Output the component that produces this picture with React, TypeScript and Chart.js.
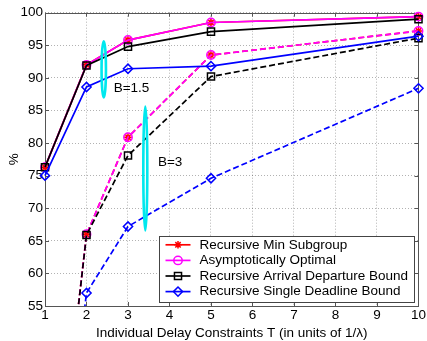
import React, { useEffect, useRef } from 'react';
import { Chart, registerables } from 'chart.js';

Chart.register(...registerables);

// ---- data ----
const T = [1, 2, 3, 5, 10];
const minSubgroupB15 = [76.3, 92.0, 95.8, 98.5, 99.4];
const asymOptimalB15 = [76.3, 92.0, 95.8, 98.5, 99.4];
const arrivalDepartureB15 = [76.3, 91.9, 94.8, 97.1, 99.0];
const singleDeadlineB15 = [75.0, 88.6, 91.4, 91.8, 96.4];
const minSubgroupB3 = [10, 66.0, 80.9, 93.5, 97.2];
const asymOptimalB3 = [10, 66.0, 80.9, 93.5, 97.2];
const arrivalDepartureB3 = [10, 65.9, 78.1, 90.2, 96.1];
const singleDeadlineB3 = [5, 57.0, 67.2, 74.6, 88.4];

const xTickValues = [1, 2, 3, 4, 5, 6, 7, 8, 9, 10];
const yTickValues = [55, 60, 65, 70, 75, 80, 85, 90, 95, 100];

const legendLabels = [
  'Recursive Min Subgroup',
  'Asymptotically Optimal',
  'Recursive Arrival Departure Bound',
  'Recursive Single Deadline Bound',
];
const seriesColors = ['#ff0000', '#ff00ff', '#000000', '#0000ff'];
const seriesMarkers = ['star', 'circle', 'rect', 'rectRot'];

// annotation ellipses (data units)
const ellipseT = [2.416, 3.417];
const ellipseY = [91.3, 76.1];
const ellipseRadT = [0.053, 0.048];
const ellipseRadY = [4.3, 9.5];
const noteLabels = ['B=1.5', 'B=3'];
const noteT = [2.656, 3.72];
const noteY = [88.4, 77.0];

const xTitle = 'Individual Delay Constraints T (in units of 1/\u03bb)';
const yTitle = '%';

const FONT = "'Liberation Sans', Arial, sans-serif";
const FSIZE = 13.5;

function markerRadius(style: string) {
  if (style === 'rect') return 5;
  if (style === 'rectRot') return 4.6;
  if (style === 'star') return 3.8;
  return 4.2;
}

function drawMarker(ctx: CanvasRenderingContext2D, style: string, x: number, y: number, r: number) {
  ctx.beginPath();
  if (style === 'circle') {
    ctx.arc(x, y, r, 0, Math.PI * 2);
  } else if (style === 'rect') {
    const s = r * Math.SQRT1_2;
    ctx.rect(x - s, y - s, 2 * s, 2 * s);
  } else if (style === 'rectRot') {
    ctx.moveTo(x - r, y);
    ctx.lineTo(x, y - r);
    ctx.lineTo(x + r, y);
    ctx.lineTo(x, y + r);
    ctx.closePath();
  } else if (style === 'star') {
    const d = r * Math.SQRT1_2;
    ctx.moveTo(x, y - r); ctx.lineTo(x, y + r);
    ctx.moveTo(x - r, y); ctx.lineTo(x + r, y);
    ctx.moveTo(x - d, y - d); ctx.lineTo(x + d, y + d);
    ctx.moveTo(x - d, y + d); ctx.lineTo(x + d, y - d);
  }
  ctx.stroke();
}

function makeSet(idx: number, values: number[], dashed: boolean) {
  const color = seriesColors[idx];
  const style = seriesMarkers[idx];
  return {
    label: legendLabels[idx] + (dashed ? ' (B=3)' : ' (B=1.5)'),
    data: T.map((t, i) => ({ x: t, y: values[i] })),
    borderColor: color,
    backgroundColor: 'transparent',
    borderWidth: 1.7,
    borderDash: dashed ? [6, 3] : [],
    pointStyle: style,
    pointRadius: markerRadius(style),
    pointHoverRadius: markerRadius(style),
    pointBorderColor: color,
    pointBackgroundColor: 'transparent',
    pointBorderWidth: 1.5,
    tension: 0,
    fill: false,
    clip: { left: 12, top: 12, right: 12, bottom: 0 },
    order: 3 - idx,
  };
}

const framePlugin = {
  id: 'frame',
  beforeDatasetsDraw(chart: any) {
    const { ctx, chartArea: a, scales } = chart;
    ctx.save();
    ctx.strokeStyle = '#555';
    ctx.lineWidth = 1;
    ctx.setLineDash([]);
    ctx.strokeRect(Math.round(a.left) + 0.5, Math.round(a.top) + 0.5, Math.round(a.right - a.left), Math.round(a.bottom - a.top));
    const tl = 4;
    ctx.beginPath();
    xTickValues.forEach((v) => {
      const x = Math.round(scales.x.getPixelForValue(v)) + 0.5;
      ctx.moveTo(x, a.bottom); ctx.lineTo(x, a.bottom - tl);
      ctx.moveTo(x, a.top); ctx.lineTo(x, a.top + tl);
    });
    yTickValues.forEach((v) => {
      const y = Math.round(scales.y.getPixelForValue(v)) + 0.5;
      ctx.moveTo(a.left, y); ctx.lineTo(a.left + tl, y);
      ctx.moveTo(a.right, y); ctx.lineTo(a.right - tl, y);
    });
    ctx.stroke();
    ctx.restore();
  },
};

const annotationPlugin = {
  id: 'notes',
  afterDatasetsDraw(chart: any) {
    const { ctx, scales, chartArea: a } = chart;
    ctx.save();
    // ellipses
    ctx.strokeStyle = '#00e8ee';
    ctx.lineWidth = 2.6;
    ctx.setLineDash([]);
    ellipseT.forEach((t, i) => {
      const cx = scales.x.getPixelForValue(t);
      const cy = scales.y.getPixelForValue(ellipseY[i]);
      const rx = Math.abs(scales.x.getPixelForValue(t + ellipseRadT[i]) - cx);
      const ry = Math.abs(scales.y.getPixelForValue(ellipseY[i] + ellipseRadY[i]) - cy);
      ctx.beginPath();
      ctx.ellipse(cx, cy, rx, ry, 0, 0, Math.PI * 2);
      ctx.stroke();
    });
    // text notes
    ctx.fillStyle = '#000';
    ctx.font = `${FSIZE}px ${FONT}`;
    ctx.textAlign = 'left';
    ctx.textBaseline = 'middle';
    noteLabels.forEach((s, i) => {
      ctx.fillText(s, scales.x.getPixelForValue(noteT[i]), scales.y.getPixelForValue(noteY[i]));
    });

    // legend
    ctx.font = `${FSIZE}px ${FONT}`;
    const maxW = Math.max(...legendLabels.map((s) => ctx.measureText(s).width));
    const rowH = 15.6;
    const boxW = 40 + maxW + 6;
    const boxH = 8.3 + rowH * (legendLabels.length - 1) + 11;
    const right = a.right - 5;
    const bottom = a.bottom - 3.5;
    const left = Math.round(right - boxW) + 0.5;
    const top = Math.round(bottom - boxH) + 0.5;
    ctx.fillStyle = '#fff';
    ctx.fillRect(left, top, Math.round(boxW), Math.round(boxH));
    ctx.strokeStyle = '#444';
    ctx.lineWidth = 1;
    ctx.strokeRect(left, top, Math.round(boxW), Math.round(boxH));
    legendLabels.forEach((s, i) => {
      const y = top + 8.3 + i * rowH;
      ctx.strokeStyle = seriesColors[i];
      ctx.lineWidth = 1.7;
      ctx.beginPath();
      ctx.moveTo(left + 6, y);
      ctx.lineTo(left + 31, y);
      ctx.stroke();
      ctx.lineWidth = 1.5;
      drawMarker(ctx, seriesMarkers[i], left + 18.5, y, markerRadius(seriesMarkers[i]));
      ctx.fillStyle = '#000';
      ctx.fillText(s, left + 40, y);
    });
    ctx.restore();
  },
};

export default function App() {
  const ref = useRef<HTMLCanvasElement | null>(null);

  useEffect(() => {
    document.body.style.margin = '0';
    const canvas = ref.current;
    if (!canvas) return;
    const chart = new Chart(canvas, {
      type: 'line',
      data: {
        datasets: [
          makeSet(0, minSubgroupB15, false),
          makeSet(1, asymOptimalB15, false),
          makeSet(2, arrivalDepartureB15, false),
          makeSet(3, singleDeadlineB15, false),
          makeSet(0, minSubgroupB3, true),
          makeSet(1, asymOptimalB3, true),
          makeSet(2, arrivalDepartureB3, true),
          makeSet(3, singleDeadlineB3, true),
        ] as any,
      },
      options: {
        animation: false,
        responsive: false,
        devicePixelRatio: 1,
        layout: { padding: { top: 12.7, right: 7, left: 0, bottom: 0 } },
        plugins: {
          legend: { display: false },
          tooltip: { enabled: false },
        },
        scales: {
          x: {
            type: 'linear',
            min: 1,
            max: 10,
            afterBuildTicks: (s: any) => { s.ticks = xTickValues.map((v) => ({ value: v })); },
            afterFit: (s: any) => { s.height = 35; },
            ticks: { color: '#000', font: { family: FONT, size: FSIZE }, padding: 1, maxRotation: 0, autoSkip: false },
            grid: { color: 'rgba(0,0,0,0.3)', drawTicks: false, lineWidth: 1 },
            border: { display: false, dash: [1, 2] },
            title: { display: true, text: xTitle, color: '#000', font: { family: FONT, size: FSIZE }, padding: { top: 0, bottom: 0 } },
          },
          y: {
            type: 'linear',
            min: 55,
            max: 100,
            afterBuildTicks: (s: any) => { s.ticks = yTickValues.map((v) => ({ value: v })); },
            afterFit: (s: any) => { s.width = 45; },
            ticks: { color: '#000', font: { family: FONT, size: FSIZE }, padding: 2, autoSkip: false },
            grid: { color: 'rgba(0,0,0,0.3)', drawTicks: false, lineWidth: 1 },
            border: { display: false, dash: [1, 2] },
            title: { display: true, text: yTitle, color: '#000', font: { family: FONT, size: FSIZE }, padding: { top: 6, bottom: 0 } },
          },
        },
      } as any,
      plugins: [framePlugin, annotationPlugin],
    });
    return () => chart.destroy();
  }, []);

  return (
    <div style={{ width: 427, height: 341, background: '#fff' }}>
      <canvas ref={ref} width={427} height={341} style={{ display: 'block' }} />
    </div>
  );
}
